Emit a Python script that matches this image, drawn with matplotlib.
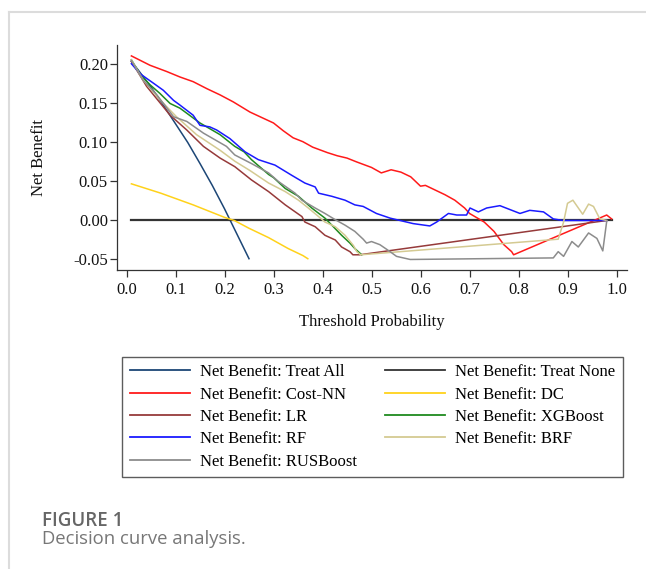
import matplotlib
matplotlib.use("Agg")
import matplotlib.pyplot as plt
from matplotlib.lines import Line2D

# ---- data ----
treat_all_t = [0.01, 0.025, 0.05, 0.075, 0.10, 0.125, 0.15, 0.175, 0.20, 0.225, 0.25]
treat_all_nb = [0.204, 0.192, 0.171, 0.148, 0.124, 0.100, 0.073, 0.045, 0.015, -0.017, -0.049]

treat_none_t = [0.01, 0.99]
treat_none_nb = [0.0, 0.0]

costnn_t = [0.01, 0.048, 0.082, 0.109, 0.136, 0.164, 0.191, 0.218, 0.252, 0.30, 0.32, 0.34,
            0.36, 0.38, 0.41, 0.43, 0.45, 0.47, 0.50, 0.52, 0.54, 0.56, 0.58, 0.60, 0.61,
            0.63, 0.65, 0.67, 0.69, 0.70, 0.73, 0.75, 0.77, 0.786, 0.79, 0.98, 0.99]
costnn_nb = [0.211, 0.199, 0.191, 0.184, 0.178, 0.169, 0.161, 0.152, 0.139, 0.125, 0.115, 0.106,
             0.101, 0.094, 0.087, 0.083, 0.080, 0.075, 0.068, 0.061, 0.065, 0.062, 0.056, 0.044, 0.045,
             0.039, 0.033, 0.026, 0.016, 0.009, -0.002, -0.014, -0.031, -0.040, -0.044, 0.007, 0.002]

dc_t = [0.01, 0.07, 0.136, 0.20, 0.22, 0.25, 0.29, 0.33, 0.36, 0.37]
dc_nb = [0.047, 0.035, 0.020, 0.004, 0.000, -0.010, -0.022, -0.036, -0.045, -0.049]

lr_t = [0.01, 0.041, 0.089, 0.123, 0.157, 0.191, 0.221, 0.255, 0.290, 0.324, 0.358, 0.364,
        0.385, 0.405, 0.426, 0.439, 0.456, 0.462, 0.476, 0.98]
lr_nb = [0.204, 0.172, 0.135, 0.116, 0.095, 0.080, 0.069, 0.052, 0.037, 0.020, 0.005, -0.002,
         -0.008, -0.019, -0.025, -0.034, -0.040, -0.044, -0.044, 0.0]

xgb_t = [0.01, 0.028, 0.048, 0.068, 0.089, 0.109, 0.150, 0.191, 0.221, 0.24, 0.255, 0.290,
         0.30, 0.324, 0.351, 0.378, 0.405, 0.419, 0.439, 0.456, 0.466, 0.480]
xgb_nb = [0.206, 0.187, 0.174, 0.163, 0.150, 0.144, 0.125, 0.110, 0.095, 0.088, 0.078, 0.059,
          0.055, 0.041, 0.031, 0.016, 0.003, -0.006, -0.019, -0.029, -0.036, -0.044]

rf_t = [0.01, 0.028, 0.055, 0.075, 0.096, 0.109, 0.136, 0.150, 0.170, 0.184, 0.211, 0.242,
        0.269, 0.303, 0.337, 0.364, 0.385, 0.392, 0.419, 0.446, 0.466, 0.483, 0.51, 0.538,
        0.585, 0.619, 0.633, 0.657, 0.674, 0.694, 0.701, 0.718, 0.735, 0.762, 0.803, 0.823,
        0.851, 0.871, 0.891, 0.98]
rf_nb = [0.201, 0.188, 0.176, 0.167, 0.154, 0.148, 0.135, 0.122, 0.120, 0.116, 0.105, 0.088,
         0.078, 0.071, 0.058, 0.048, 0.043, 0.035, 0.031, 0.026, 0.020, 0.018, 0.009, 0.003,
         -0.004, -0.007, -0.002, 0.009, 0.007, 0.007, 0.016, 0.011, 0.016, 0.019, 0.009, 0.013,
         0.011, 0.002, 0.0, 0.0]

brf_t = [0.01, 0.034, 0.068, 0.102, 0.143, 0.191, 0.221, 0.252, 0.290, 0.324, 0.351, 0.371,
         0.392, 0.405, 0.426, 0.446, 0.463, 0.470, 0.478, 0.881, 0.892, 0.900, 0.911, 0.931,
         0.943, 0.953, 0.966, 0.98]
brf_nb = [0.206, 0.180, 0.155, 0.133, 0.110, 0.090, 0.076, 0.064, 0.048, 0.037, 0.026, 0.016,
          0.005, -0.002, -0.008, -0.019, -0.032, -0.040, -0.044, -0.024, -0.002, 0.022, 0.026, 0.008,
          0.021, 0.018, 0.002, 0.0]

rus_t = [0.01, 0.034, 0.062, 0.096, 0.123, 0.157, 0.204, 0.221, 0.255, 0.290, 0.310, 0.344,
         0.358, 0.385, 0.405, 0.426, 0.446, 0.466, 0.483, 0.49, 0.50, 0.517, 0.538, 0.551,
         0.579, 0.871, 0.881, 0.892, 0.909, 0.922, 0.943, 0.960, 0.972, 0.98]
rus_nb = [0.205, 0.180, 0.161, 0.133, 0.127, 0.112, 0.095, 0.084, 0.073, 0.061, 0.050, 0.035,
          0.026, 0.016, 0.009, 0.001, -0.006, -0.014, -0.024, -0.029, -0.027, -0.031, -0.040, -0.046,
          -0.050, -0.048, -0.040, -0.046, -0.027, -0.034, -0.016, -0.023, -0.039, -0.001]

xticks = [0.0, 0.1, 0.2, 0.3, 0.4, 0.5, 0.6, 0.7, 0.8, 0.9, 1.0]
xtick_labels = ["0.0", "0.1", "0.2", "0.3", "0.4", "0.5", "0.6", "0.7", "0.8", "0.9", "1.0"]
yticks = [-0.05, 0.0, 0.05, 0.10, 0.15, 0.20]
ytick_labels = ["-0.05", "0.00", "0.05", "0.10", "0.15", "0.20"]

plt.rcParams['font.family'] = ['Liberation Serif', 'DejaVu Serif']
fs = 12

fig = plt.figure(figsize=(6.46, 5.69), dpi=100)
W, H = 646, 569
ax = fig.add_axes([117 / W, 1 - 270 / H, (626.7 - 117) / W, (270 - 45) / H])

lw = 1.1
h_all, = ax.plot(treat_all_t, treat_all_nb, color='#1c4676', lw=lw, label='Net Benefit: Treat All')
h_none, = ax.plot(treat_none_t, treat_none_nb, color='#333333', lw=1.6, label='Net Benefit: Treat None')
h_cost, = ax.plot(costnn_t, costnn_nb, color='#ff1a1a', lw=lw, label='Net Benefit: Cost-NN')
h_dc, = ax.plot(dc_t, dc_nb, color='#ffd21a', lw=lw, label='Net Benefit: DC')
h_lr, = ax.plot(lr_t, lr_nb, color='#963a3a', lw=lw, label='Net Benefit: LR')
h_xgb, = ax.plot(xgb_t, xgb_nb, color='#1f8a1f', lw=lw, label='Net Benefit: XGBoost')
h_rf, = ax.plot(rf_t, rf_nb, color='#1a1aff', lw=lw, label='Net Benefit: RF')
h_brf, = ax.plot(brf_t, brf_nb, color='#d4ca92', lw=lw, label='Net Benefit: BRF')
h_rus, = ax.plot(rus_t, rus_nb, color='#8c8c8c', lw=lw, label='Net Benefit: RUSBoost')

ax.set_xlim(-0.0194, 1.0208)
ax.set_ylim(-0.0635, 0.225)
ax.set_xticks(xticks)
ax.set_xticklabels(xtick_labels)
ax.set_yticks(yticks)
ax.set_yticklabels(ytick_labels)
for s in ['top', 'right']:
    ax.spines[s].set_visible(False)
for s in ['left', 'bottom']:
    ax.spines[s].set_linewidth(0.9)
    ax.spines[s].set_color('#333333')
ax.tick_params(axis='both', direction='out', length=5, width=0.9, color='#333333',
               labelsize=fs, labelcolor='#111111')
ax.tick_params(axis='y', pad=1.5)
ax.tick_params(axis='x', pad=4)

ax.set_xlabel('Threshold Probability', fontsize=fs, color='#111111')
ax.xaxis.label.set_va('center')
ax.xaxis.set_label_coords((372 - 117) / 509.7, (270 - 322) / 225)
ax.set_ylabel('Net Benefit', fontsize=fs, color='#111111')
ax.yaxis.label.set_va('center')
ax.yaxis.set_label_coords((39 - 117) / 509.7, (270 - 157) / 225)

handles = [h_all, h_cost, h_lr, h_rf, h_rus, h_none, h_dc, h_xgb, h_brf]
leg = fig.legend(handles=handles, labels=[h.get_label() for h in handles], ncol=2,
                 loc='upper left', bbox_to_anchor=(122.3 / W, 1 - 356.7 / H),
                 fontsize=fs, frameon=True, fancybox=False, shadow=False,
                 handlelength=3.6, handletextpad=0.6, columnspacing=1.7,
                 labelspacing=0.38, borderpad=0.45, borderaxespad=0)
leg.get_frame().set_edgecolor('#333333')
leg.get_frame().set_linewidth(1.0)
for line in leg.get_lines():
    line.set_linewidth(1.3)

# card frame
fig.add_artist(Line2D([9 / W, 1], [1 - 11.7 / H, 1 - 11.7 / H], transform=fig.transFigure,
                      color='#dcdcdc', lw=1.5))
fig.add_artist(Line2D([9 / W, 9 / W], [0, 1 - 11.7 / H], transform=fig.transFigure,
                      color='#dcdcdc', lw=1.5))

fig.text(41.7 / W, 1 - 525.7 / H, 'FIGURE 1', family=['Open Sans', 'DejaVu Sans'],
         fontweight='semibold', fontsize=13.5, color='#666666', va='baseline', ha='left')
fig.text(41.7 / W, 1 - 544 / H, 'Decision curve analysis.', family=['Open Sans', 'DejaVu Sans'],
         fontsize=13.3, color='#777777', va='baseline', ha='left')

fig.savefig('out.png', dpi=100)
